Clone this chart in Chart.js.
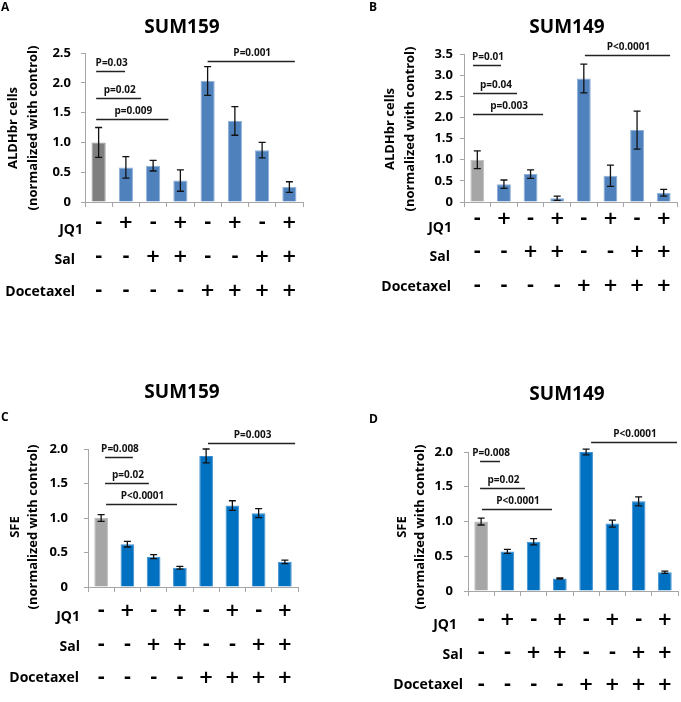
<!DOCTYPE html>
<html>
<head>
<meta charset="utf-8">
<script src="https://cdn.jsdelivr.net/npm/chart.js@4.4.1/dist/chart.umd.min.js"></script>
<style>
  html, body { margin: 0; padding: 0; background: #fff; }
  #wrap { position: relative; width: 681px; height: 702px; overflow: hidden; }
  canvas { position: absolute; }
</style>
</head>
<body>
<div id="wrap">
  <canvas id="chartA" width="340" height="351" style="left:0;top:0"></canvas>
  <canvas id="chartB" width="341" height="351" style="left:340px;top:0"></canvas>
  <canvas id="chartC" width="340" height="351" style="left:0;top:351px"></canvas>
  <canvas id="chartD" width="341" height="351" style="left:340px;top:351px"></canvas>
</div>
<script>
// treatment table under each chart
const jq1 = ['-', '+', '-', '+', '-', '+', '-', '+'];
const sal = ['-', '-', '+', '+', '-', '-', '+', '+'];
const docetaxel = ['-', '-', '-', '-', '+', '+', '+', '+'];
const rowNames = ['JQ1', 'Sal', 'Docetaxel'];

// ALDHbr cells (normalized with control)
const aldhSum159 = [1.0, 0.58, 0.61, 0.36, 2.03, 1.36, 0.87, 0.25];
const aldhSum159Err = [0.25, 0.18, 0.09, 0.18, 0.24, 0.24, 0.13, 0.09];
const aldhSum149 = [1.0, 0.42, 0.66, 0.09, 2.92, 0.62, 1.70, 0.22];
const aldhSum149Err = [0.21, 0.10, 0.10, 0.05, 0.34, 0.25, 0.45, 0.08];

// SFE (normalized with control)
const sfeSum159 = [1.0, 0.62, 0.44, 0.28, 1.90, 1.18, 1.07, 0.365];
const sfeSum159Err = [0.05, 0.04, 0.03, 0.02, 0.10, 0.07, 0.065, 0.025];
const sfeSum149 = [1.0, 0.57, 0.71, 0.18, 2.0, 0.97, 1.29, 0.27];
const sfeSum149Err = [0.05, 0.03, 0.045, 0.01, 0.04, 0.05, 0.065, 0.015];

// significance bars: from/to in category units, y in data units
const aldhSum159Sig = [
  {from: -0.09, to: 0.97, y: 2.2, label: 'P=0.03'},
  {from: -0.09, to: 1.56, y: 1.75, label: 'p=0.02'},
  {from: -0.09, to: 2.56, y: 1.4, label: 'p=0.009'},
  {from: 4.0, to: 7.2, y: 2.37, label: 'P=0.001'}
];
const aldhSum149Sig = [
  {from: -0.16, to: 0.89, y: 3.23, label: 'P=0.01'},
  {from: -0.16, to: 1.49, y: 2.58, label: 'p=0.04'},
  {from: -0.16, to: 2.47, y: 2.08, label: 'p=0.003'},
  {from: 4.04, to: 7.24, y: 3.47, label: 'P<0.0001'}
];
const sfeSum159Sig = [
  {from: 0.15, to: 1.21, y: 1.88, label: 'P=0.008'},
  {from: 0.15, to: 1.82, y: 1.51, label: 'p=0.02'},
  {from: 0.19, to: 2.89, y: 1.21, label: 'P<0.0001'},
  {from: 4.07, to: 7.39, y: 2.09, label: 'P=0.003'}
];
const sfeSum149Sig = [
  {from: -0.04, to: 0.72, y: 1.87, label: 'P=0.008'},
  {from: -0.04, to: 1.67, y: 1.48, label: 'p=0.02'},
  {from: 0.03, to: 2.7, y: 1.18, label: 'P<0.0001'},
  {from: 4.19, to: 7.46, y: 2.15, label: 'P<0.0001'}
];

const FONT = '"Open Sans", Lato, sans-serif';
const SIGN_FONT = '"DejaVu Sans", "Open Sans", sans-serif';
Chart.defaults.font.family = FONT;

// draws error bars, p-value lines, titles and the +/- table
const decorPlugin = {
  id: 'decor',
  afterDatasetsDraw(chart) {
    const o = chart.options.plugins.decor;
    const ctx = chart.ctx;
    const y = chart.scales.y;
    const x = chart.scales.x;
    const meta = chart.getDatasetMeta(0);
    ctx.save();
    ctx.strokeStyle = '#111';
    ctx.lineWidth = 1.3;
    o.values.forEach((v, i) => {
      const cx = meta.data[i].x;
      const top = y.getPixelForValue(v + o.errors[i]);
      const bot = y.getPixelForValue(v - o.errors[i]);
      ctx.beginPath();
      ctx.moveTo(cx, top); ctx.lineTo(cx, bot);
      ctx.moveTo(cx - 3.5, top); ctx.lineTo(cx + 3.5, top);
      ctx.moveTo(cx - 3.5, bot); ctx.lineTo(cx + 3.5, bot);
      ctx.stroke();
    });

    ctx.strokeStyle = '#222';
    ctx.lineWidth = 1.5;
    ctx.fillStyle = '#111';
    ctx.font = 'bold 10px ' + FONT;
    ctx.textAlign = 'center';
    ctx.textBaseline = 'alphabetic';
    o.sig.forEach(s => {
      const x1 = x.getPixelForValue(s.from);
      const x2 = x.getPixelForValue(s.to);
      const py = Math.round(y.getPixelForValue(s.y)) + 0.5;
      ctx.beginPath();
      ctx.moveTo(x1, py); ctx.lineTo(x2, py);
      ctx.stroke();
      ctx.fillText(s.label, (x1 + x2) / 2 + 1, py - 6);
    });
    ctx.restore();
  },
  afterDraw(chart) {
    const o = chart.options.plugins.decor;
    const L = o.layout;
    const ctx = chart.ctx;
    const meta = chart.getDatasetMeta(0);
    ctx.save();
    ctx.fillStyle = '#000';
    ctx.textBaseline = 'middle';

    ctx.textAlign = 'center';
    ctx.font = 'bold 19px ' + FONT;
    ctx.fillText(o.title, L.title[0], L.title[1]);

    ctx.textAlign = 'left';
    ctx.font = 'bold 12px ' + FONT;
    ctx.fillText(o.letter, L.letter[0], L.letter[1]);

    ctx.font = 'bold 13px ' + FONT;
    ctx.textAlign = 'center';
    o.yTitle.forEach((t, k) => {
      ctx.save();
      ctx.translate(L.yTitleX[k], L.yTitleY);
      ctx.rotate(-Math.PI / 2);
      ctx.fillText(t, 0, 0);
      ctx.restore();
    });

    [jq1, sal, docetaxel].forEach((row, r) => {
      ctx.textAlign = 'right';
      ctx.font = 'bold 14px ' + FONT;
      ctx.fillText(rowNames[r], L.rowLabelX[r], L.rowLabelY[r]);
      ctx.textAlign = 'center';
      ctx.font = 'bold 18px ' + SIGN_FONT;
      row.forEach((sign, i) => {
        ctx.fillText(sign, meta.data[i].x, L.rowY[r]);
      });
    });
    ctx.restore();
  }
};

function makeChart(cfg) {
  const el = document.getElementById(cfg.canvas);
  const L = cfg.layout;
  const axisW = 40;
  const bg = cfg.values.map((v, i) => i === 0 ? cfg.gray : cfg.blue);
  const edge = cfg.values.map((v, i) => i === 0 ? cfg.grayEdge : cfg.blueEdge);
  new Chart(el, {
    type: 'bar',
    data: {
      labels: jq1.map((v, i) => String(i + 1)),
      datasets: [{
        data: cfg.values,
        backgroundColor: bg,
        borderColor: edge,
        borderWidth: 1,
        barPercentage: 0.52,
        categoryPercentage: 1
      }]
    },
    options: {
      responsive: false,
      animation: false,
      layout: {
        padding: {
          left: L.area[0] - axisW,
          right: el.width - L.area[1],
          top: L.area[2],
          bottom: el.height - L.area[3]
        }
      },
      plugins: {
        legend: {display: false},
        tooltip: {enabled: false},
        decor: cfg
      },
      scales: {
        x: {
          grid: {drawOnChartArea: false, tickLength: 5, color: '#a6a6a6'},
          border: {color: '#a6a6a6'},
          ticks: {display: false},
          afterFit(scale) { scale.height = 0; }
        },
        y: {
          min: 0,
          max: cfg.max,
          grid: {drawOnChartArea: false, tickLength: 4, color: '#a6a6a6'},
          border: {color: '#a6a6a6'},
          ticks: {
            stepSize: 0.5,
            padding: L.tickPad,
            color: '#000',
            font: {size: 13, weight: 'bold'},
            callback: v => v === 0 ? '0' : v.toFixed(1)
          },
          afterFit(scale) { scale.width = axisW; }
        }
      }
    },
    plugins: [decorPlugin]
  });
}

makeChart({
  canvas: 'chartA', values: aldhSum159, errors: aldhSum159Err, sig: aldhSum159Sig,
  max: 2.5, title: 'SUM159', letter: 'A', yTitle: ['ALDHbr cells', '(normalized with control)'],
  gray: '#7f7f7f', grayEdge: '#999999', blue: '#4f81bd', blueEdge: '#8fb0d9',
  layout: {area: [85, 303, 53, 202], tickPad: 10, title: [182, 28], letter: [1, 8], yTitleX: [13, 33], yTitleY: 128,
    rowY: [223, 257, 291], rowLabelX: [83, 75, 75], rowLabelY: [230, 260, 292]}
});
makeChart({
  canvas: 'chartB', values: aldhSum149, errors: aldhSum149Err, sig: aldhSum149Sig,
  max: 3.5, title: 'SUM149', letter: 'B', yTitle: ['ALDHbr cells', '(normalized with control)'],
  gray: '#a6a6a6', grayEdge: '#bdbdbd', blue: '#4f81bd', blueEdge: '#8fb0d9',
  layout: {area: [124, 337, 54, 202], tickPad: 7, title: [227, 28], letter: [29, 8], yTitleX: [50, 70], yTitleY: 129,
    rowY: [219, 252, 286], rowLabelX: [112, 110, 111], rowLabelY: [228, 257, 287]}
});
makeChart({
  canvas: 'chartC', values: sfeSum159, errors: sfeSum159Err, sig: sfeSum159Sig,
  max: 2.0, title: 'SUM159', letter: 'C', yTitle: ['SFE', '(normalized with control)'],
  gray: '#a6a6a6', grayEdge: '#bdbdbd', blue: '#0070c0', blueEdge: '#3d8fd0',
  layout: {area: [88, 298, 98, 236], tickPad: 16, title: [182, 42], letter: [1, 67], yTitleX: [15, 33], yTitleY: 176,
    rowY: [260, 294, 327], rowLabelX: [80, 80, 79], rowLabelY: [266, 296, 327]}
});
makeChart({
  canvas: 'chartD', values: sfeSum149, errors: sfeSum149Err, sig: sfeSum149Sig,
  max: 2.0, title: 'SUM149', letter: 'D', yTitle: ['SFE', '(normalized with control)'],
  gray: '#a6a6a6', grayEdge: '#bdbdbd', blue: '#0070c0', blueEdge: '#3d8fd0',
  layout: {area: [128, 338, 101, 240], tickPad: 11, title: [227, 44], letter: [29, 69], yTitleX: [62, 80], yTitleY: 176,
    rowY: [269, 302, 334], rowLabelX: [117, 123, 123], rowLabelY: [274, 304, 334]}
});
</script>
</body>
</html>
